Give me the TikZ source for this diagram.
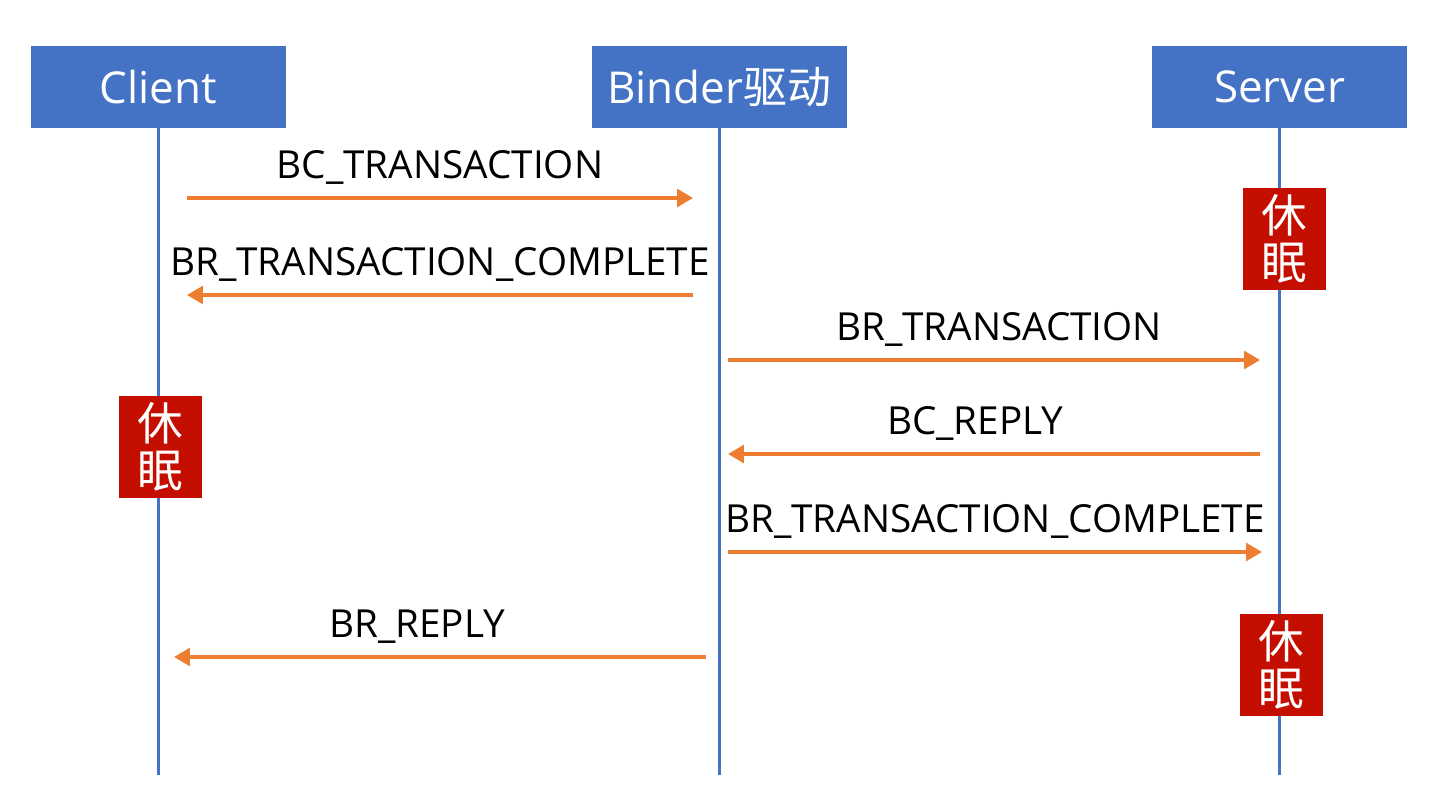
\documentclass[tikz,border=0pt]{standalone}
\usepackage{fontspec}
\setmainfont{Open Sans}
\newfontfamily\cjk{Noto Sans CJK SC}
\usepackage{tikz}
\usetikzlibrary{arrows.meta,positioning}
\definecolor{hdrblue}{RGB}{68,114,196}
\definecolor{msgorange}{RGB}{237,125,49}
\definecolor{sleepred}{RGB}{196,14,0}

\begin{document}
\begin{tikzpicture}[x=0.02cm,y=-0.02cm]
    \tikzstyle{actor}=[rectangle,fill=hdrblue,text=white,inner sep=0pt,%
    minimum width=5.1cm,minimum height=1.64cm,font=\fontsize{25}{30}\selectfont] %
    \tikzstyle{life}=[hdrblue,line width=1.8pt] %
    \tikzstyle{msg}=[msgorange,line width=2pt,%
    -{Triangle[length=9pt,width=10pt]}] %
    \tikzstyle{lbl}=[midway,anchor=base,yshift=0.4cm,text=black,%
    font=\fontsize{22}{26}\selectfont] %
    \tikzstyle{sleep}=[rectangle,fill=sleepred,text=white,align=center,%
    minimum width=1.66cm,minimum height=2cm,font=\cjk\fontsize{26}{27}\selectfont] %

    \useasboundingbox (0,0) rectangle (1448,805);

    \node[actor] (CLI) at (158.5,87) {Client};
    \node[actor] (BND) [right=6.1cm of CLI] {Binder{\cjk 驱动}};
    \node[actor] (SRV) [right=6.1cm of BND] {Server};

    \coordinate (bottom) at (0,775);
    \draw[life] (CLI.south) -- (CLI |- bottom);
    \draw[life] (BND.south) -- (BND |- bottom);
    \draw[life] (SRV.south) -- (SRV |- bottom);

    \node[sleep] (SLP1) at (1284,239) {休\\眠};
    \node[sleep] (SLP2) at (160.5,447) {休\\眠};
    \node[sleep] (SLP3) at (1281,665) {休\\眠};

    \coordinate (M1a) at (187,198);  \coordinate (M1b) at (693,198);
    \coordinate (M2a) at (693,295);  \coordinate (M2b) at (187,295);
    \coordinate (M3a) at (728,360);  \coordinate (M3b) at (1260,360);
    \coordinate (M4a) at (1260,454); \coordinate (M4b) at (728,454);
    \coordinate (M5a) at (728,552);  \coordinate (M5b) at (1262,552);
    \coordinate (M6a) at (706,657);  \coordinate (M6b) at (174,657);

    \draw[msg] (M1a) -- node[lbl] {BC\_TRANSACTION} (M1b);
    \draw[msg] (M2a) -- node[lbl] {BR\_TRANSACTION\_COMPLETE} (M2b);
    \draw[msg] (M3a) -- node[lbl,xshift=0.1cm] {BR\_TRANSACTION} (M3b);
    \draw[msg] (M4a) -- node[lbl,xshift=-0.38cm] {BC\_REPLY} (M4b);
    \draw[msg] (M5a) -- node[lbl] {BR\_TRANSACTION\_COMPLETE} (M5b);
    \draw[msg] (M6a) -- node[lbl,xshift=-0.46cm] {BR\_REPLY} (M6b);
\end{tikzpicture}
\end{document}
